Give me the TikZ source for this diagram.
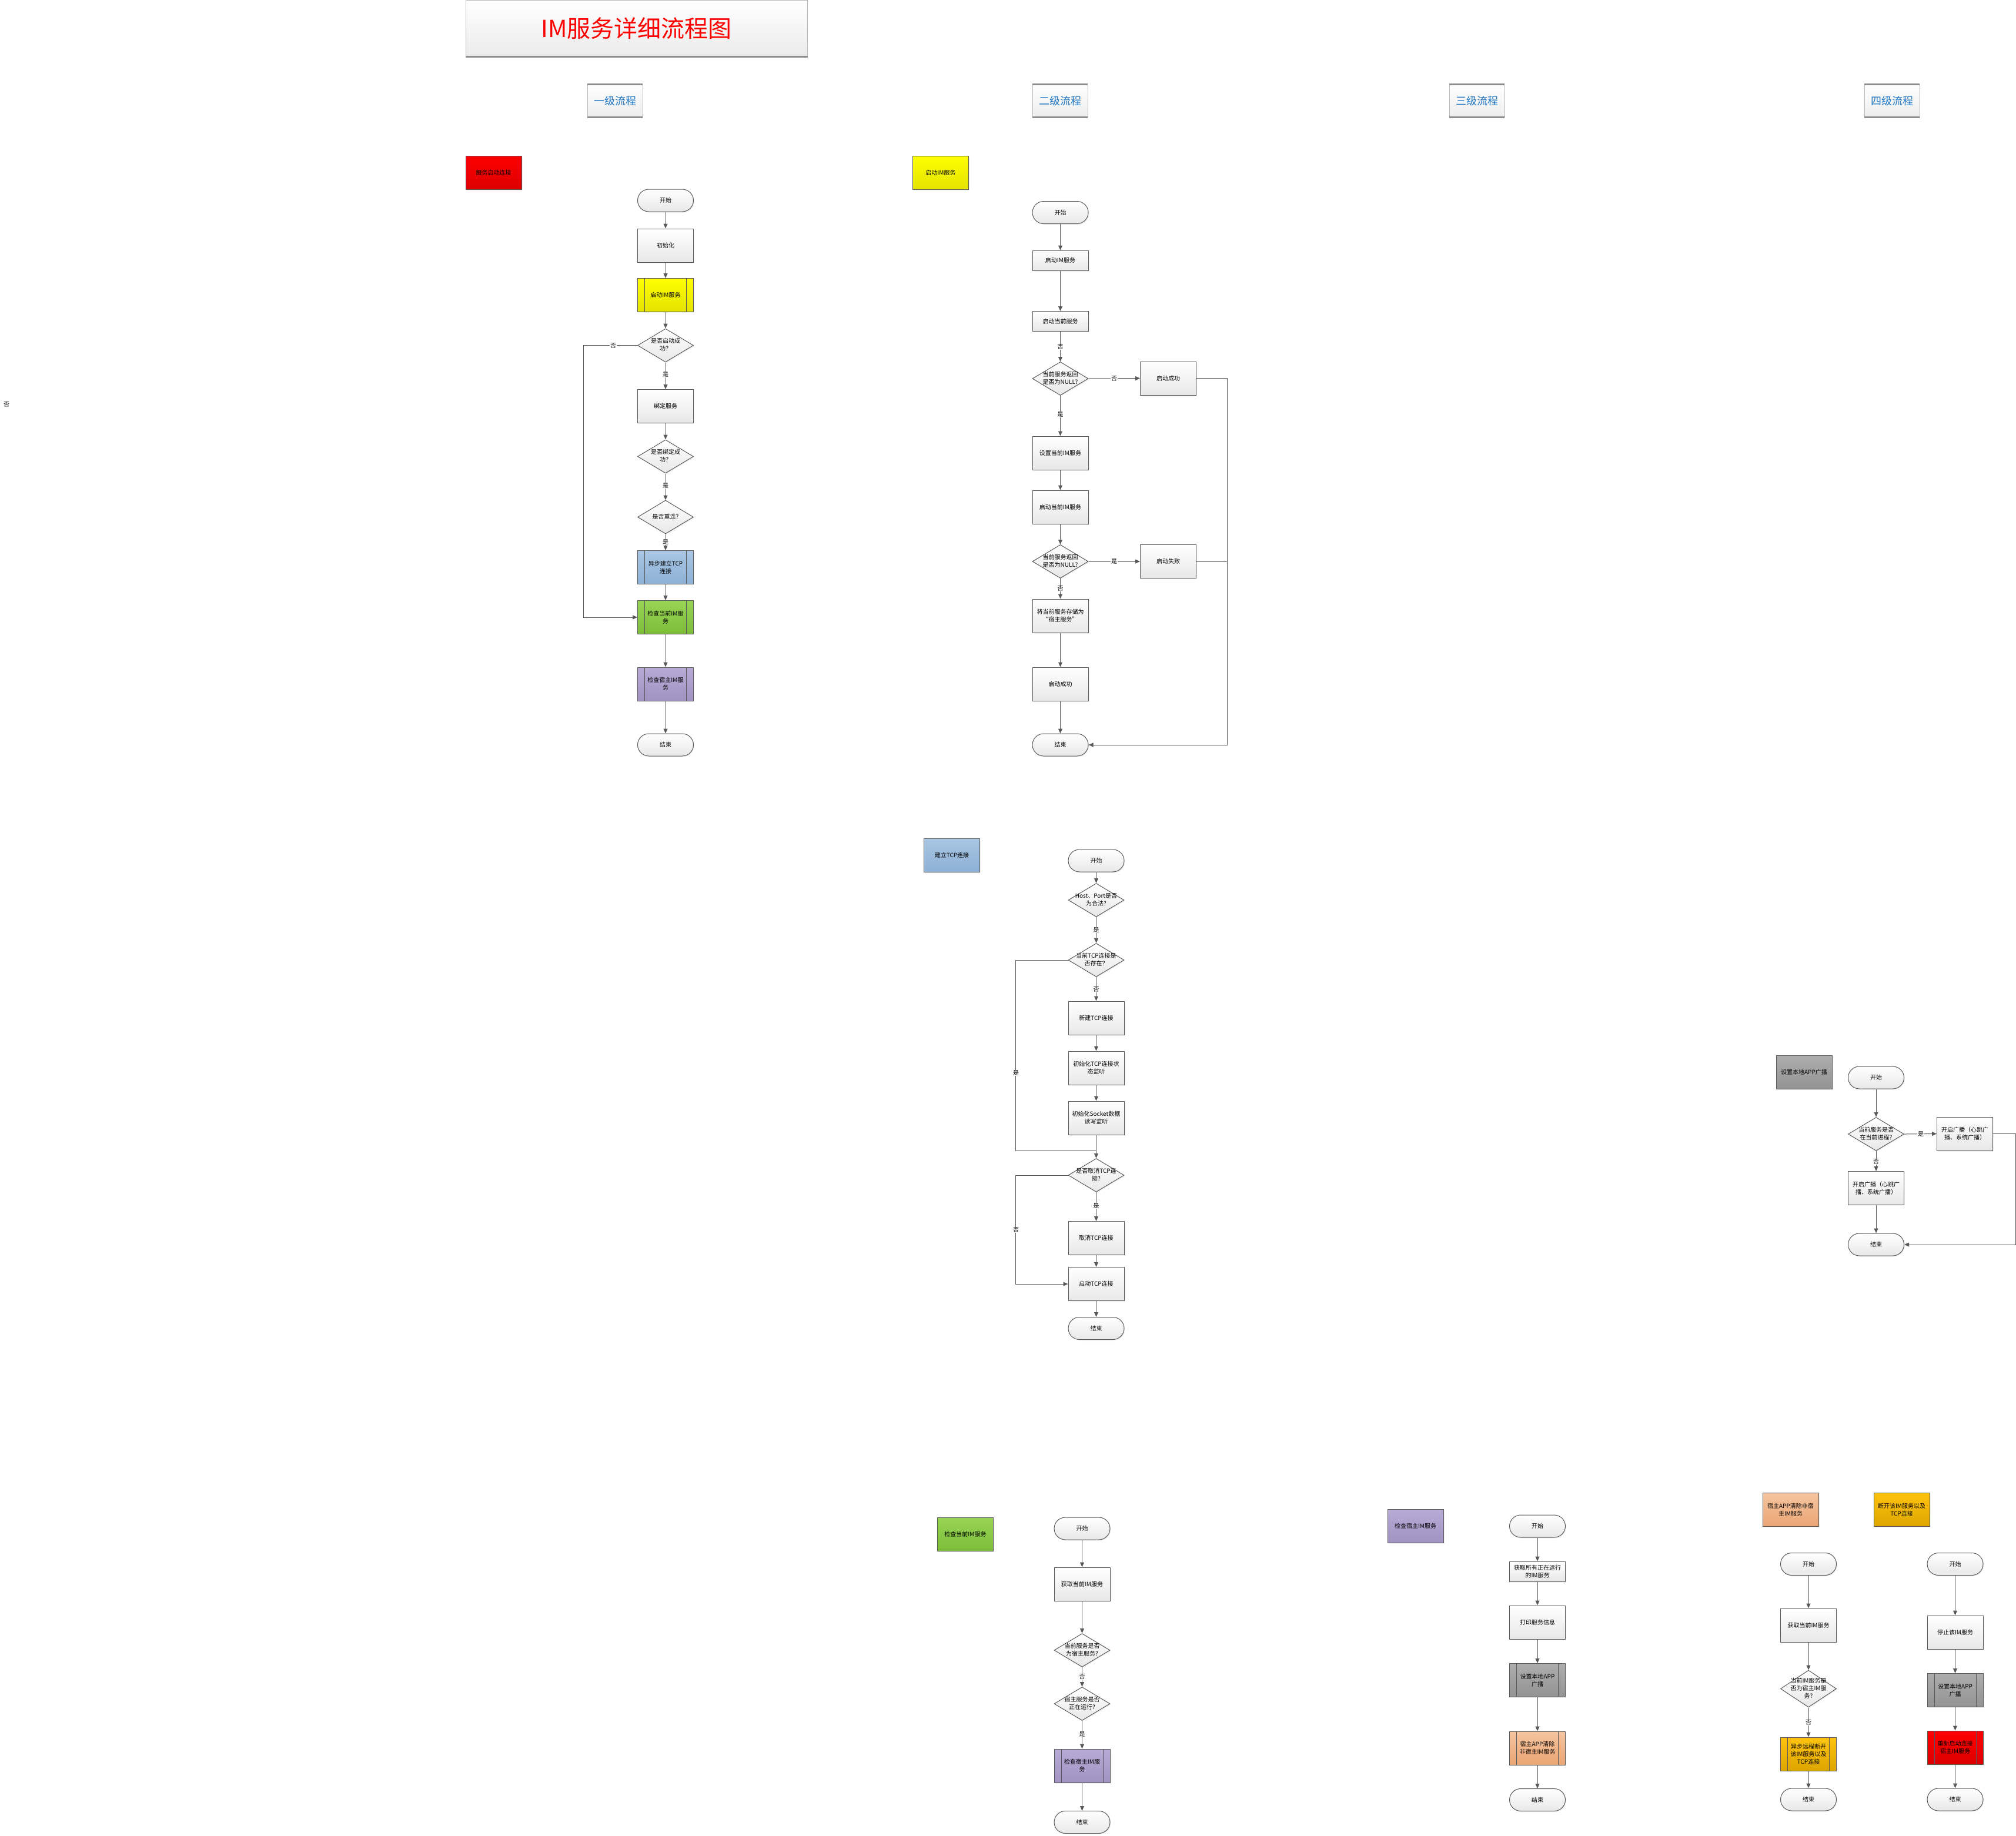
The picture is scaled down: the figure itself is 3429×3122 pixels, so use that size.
\documentclass[tikz,border=0pt]{standalone}
\usepackage{fontspec}
\setmainfont{Noto Sans CJK SC}
\usetikzlibrary{shapes.geometric,arrows.meta,shadows}
\definecolor{ln}{HTML}{595959}
\definecolor{bxb}{HTML}{E8E8E8}
\definecolor{redT}{HTML}{FF0000}\definecolor{redB}{HTML}{DC0000}
\definecolor{yelT}{HTML}{FFFF00}\definecolor{yelB}{HTML}{E3E300}
\definecolor{bluT}{HTML}{A9C6E3}\definecolor{bluB}{HTML}{8DB1D6}
\definecolor{grnT}{HTML}{98D455}\definecolor{grnB}{HTML}{7DBD3A}
\definecolor{purT}{HTML}{B7ABD6}\definecolor{purB}{HTML}{A293C2}
\definecolor{gryT}{HTML}{ADADAD}\definecolor{gryB}{HTML}{939393}
\definecolor{orgT}{HTML}{F5C49F}\definecolor{orgB}{HTML}{EBA574}
\definecolor{gldT}{HTML}{FFC20E}\definecolor{gldB}{HTML}{DDA600}
\definecolor{hdr}{HTML}{1F77C4}
\definecolor{hdl}{HTML}{8C8C8C}
\newcommand{\fsz}[1]{\fontsize{#1pt}{#1pt}\selectfont}
\newcommand{\bfs}{\fontsize{10pt}{13pt}\selectfont}
\newcommand{\dtx}[1]{\makebox[0pt]{\begin{tabular}{@{}c@{}}#1\end{tabular}}}
\tikzset{
  common/.style={draw=ln, line width=1pt, font=\bfs,
     drop shadow={shadow xshift=1.5pt, shadow yshift=-1.5pt, fill=black!12}},
  base/.style={common, align=center, inner sep=2pt},
  proc/.style={base, minimum width=95pt, minimum height=57pt, top color=white, bottom color=bxb},
  shortproc/.style={proc, minimum height=34pt},
  term/.style={base, minimum width=95pt, minimum height=38pt, rounded corners=19pt, top color=white, bottom color=bxb},
  dec/.style={common, shape=diamond, minimum width=95pt, minimum height=57pt, inner sep=0pt, top color=white, bottom color=bxb},
  sub/.style 2 args={proc, top color=#1, bottom color=#2,
     path picture={\draw[ln, line width=1pt]
       ([xshift=12pt]path picture bounding box.north west) -- ([xshift=12pt]path picture bounding box.south west)
       ([xshift=-12pt]path picture bounding box.north east) -- ([xshift=-12pt]path picture bounding box.south east);}},
  legend/.style 2 args={base, minimum width=95pt, minimum height=57pt, top color=#1, bottom color=#2},
  hd/.style={draw=gray!55, line width=0.8pt, top color=white, bottom color=black!7, minimum width=94pt, minimum height=55pt, font=\fsz{18}, text=hdr},
  arr/.style={draw=ln, line width=1pt, -{Triangle[length=8pt,width=7pt]}},
  con/.style={draw=ln, line width=1pt},
  lbl/.style={fill=white, inner sep=1pt, font=\bfs},
}
\begin{document}
\begin{tikzpicture}[x=1pt,y=-1pt]
\useasboundingbox (0,0) rectangle (3429,3122);
\fill[white] (0,0) rectangle (3429,3122);

% title and headers
\node[draw=gray!55, line width=1pt, top color=white, bottom color=black!8, minimum width=581pt, minimum height=96pt, font=\fsz{40}, text=red] (title) at (1082.5,48) {IM服务详细流程图};
\draw[hdl, line width=3pt] (title.south west) -- (title.south east);
\draw[black!75, line width=1.2pt] (title.north west) -- (title.north east);
\node[hd] (h1) at (1046,171.5) {一级流程};
\node[hd] (h2) at (1803,171.5) {二级流程};
\node[hd] (h3) at (2512,171.5) {三级流程};
\node[hd] (h4) at (3218,171.5) {四级流程};
\foreach \n in {h1,h2,h3,h4}{
  \draw[hdl, line width=2.5pt] (\n.north west) -- (\n.north east);
  \draw[hdl, line width=2.5pt] (\n.south west) -- (\n.south east);
}
\node[font=\bfs] (stray) at (11,688) {否};

% ---------- column 1 ----------
\node[legend={redT}{redB}] (lg1) at (839.5,293.5) {服务启动连接};
\node[term] (a0) at (1132,341) {开始};
\node[proc] (a1) at (1132,417.5) {初始化};
\node[sub={yelT}{yelB}] (a2) at (1132,502) {启动IM服务};
\node[dec] (a3) at (1132,587.5) {\dtx{是否启动成\\功？}};
\node[proc] (a4) at (1132,691) {绑定服务};
\node[dec] (a5) at (1132,776.5) {\dtx{是否绑定成\\功？}};
\node[dec] (a6) at (1132,879.5) {\dtx{是否重连?}};
\node[sub={bluT}{bluB}] (a7) at (1132,965) {异步建立TCP\\连接};
\node[sub={grnT}{grnB}] (a8) at (1132,1050) {检查当前IM服\\务};
\node[sub={purT}{purB}] (a9) at (1132,1163.5) {检查宿主IM服\\务};
\node[term] (a10) at (1132,1267) {结束};

% ---------- column 2 ----------
\node[legend={yelT}{yelB}] (lg2) at (1600,293.5) {启动IM服务};
\node[term] (b0) at (1803.5,361.5) {开始};
\node[shortproc] (b1) at (1803.5,443) {启动IM服务};
\node[shortproc] (b2) at (1803.5,546.5) {启动当前服务};
\node[dec] (b3) at (1803.5,644) {\dtx{当前服务返回\\是否为NULL?}};
\node[proc] (b4) at (1987,643.5) {启动成功};
\node[proc] (b5) at (1803.5,770.5) {设置当前IM服务};
\node[proc] (b6) at (1803.5,862.5) {启动当前IM服务};
\node[dec] (b7) at (1803.5,955) {\dtx{当前服务返回\\是否为NULL?}};
\node[proc] (b8) at (1987,955) {启动失败};
\node[proc] (b9) at (1803.5,1047.5) {将当前服务存储为\\“宿主服务”};
\node[proc] (b10) at (1803.5,1163.5) {启动成功};
\node[term] (b11) at (1803.5,1267) {结束};

% ---------- TCP ----------
\node[legend={bluT}{bluB}] (lg3) at (1619,1454.5) {建立TCP连接};
\node[term] (t0) at (1864.5,1464) {开始};
\node[dec] (t1) at (1864.5,1531) {\dtx{Host、Port是否\\为合法?}};
\node[dec] (t2) at (1864.5,1633) {\dtx{当前TCP连接是\\否存在？}};
\node[proc] (t3) at (1864.5,1731.5) {新建TCP连接};
\node[proc] (t4) at (1864.5,1816.5) {初始化TCP连接状\\态监听};
\node[proc] (t5) at (1864.5,1901.5) {初始化Socket数据\\读写监听};
\coordinate (tj) at (1864.5,1957);
\node[dec] (t6) at (1864.5,1999) {\dtx{是否取消TCP连\\接?}};
\node[proc] (t7) at (1864.5,2106) {取消TCP连接};
\node[proc] (t8) at (1864.5,2184) {启动TCP连接};
\node[term] (t9) at (1864.5,2259.5) {结束};

% ---------- set local app broadcast ----------
\node[legend={gryT}{gryB}] (lg4) at (3068.5,1824) {设置本地APP广播};
\node[term] (e0) at (3191,1833) {开始};
\node[dec] (e1) at (3191,1929) {\dtx{当前服务是否\\在当前进程?}};
\node[proc] (e2) at (3342,1928.5) {开启广播（心跳广\\播、系统广播）};
\node[proc] (e3) at (3191,2021) {开启广播（心跳广\\播、系统广播）};
\node[term] (e4) at (3191,2117) {结束};

% ---------- check current IM service ----------
\node[legend={grnT}{grnB}] (lg5) at (1642,2610) {检查当前IM服务};
\node[term] (f0) at (1840.5,2600) {开始};
\node[proc] (f1) at (1840.5,2694.5) {获取当前IM服务};
\node[dec] (f2) at (1840.5,2807) {\dtx{当前服务是否\\为宿主服务?}};
\node[dec] (f3) at (1840.5,2898) {\dtx{宿主服务是否\\正在运行?}};
\node[sub={purT}{purB}] (f4) at (1840.5,3003.5) {检查宿主IM服\\务};
\node[term] (f5) at (1840.5,3099.5) {结束};

% ---------- check host IM service ----------
\node[legend={purT}{purB}] (lg6) at (2407.5,2595.5) {检查宿主IM服务};
\node[term] (g0) at (2615,2596) {开始};
\node[shortproc] (g1) at (2615,2673) {获取所有正在运行\\的IM服务};
\node[proc] (g2) at (2615,2759.5) {打印服务信息};
\node[sub={gryT}{gryB}] (g3) at (2615,2858) {设置本地APP\\广播};
\node[sub={orgT}{orgB}] (g4) at (2615,2973.5) {宿主APP清除\\非宿主IM服务};
\node[term] (g5) at (2615,3061.5) {结束};

% ---------- host app clears / disconnect ----------
\node[legend={orgT}{orgB}] (lg7) at (3045.5,2568) {宿主APP清除非宿\\主IM服务};
\node[legend={gldT}{gldB}] (lg8) at (3234.5,2568) {断开该IM服务以及\\TCP连接};
\node[term] (h0) at (3076,2660.5) {开始};
\node[proc] (h1x) at (3076,2764.5) {获取当前IM服务};
\node[dec, minimum height=63pt] (h2x) at (3076,2872.5) {\dtx{当前IM服务是\\否为宿主IM服\\务?}};
\node[sub={gldT}{gldB}] (h3x) at (3076,2983.5) {异步远程断开\\该IM服务以及\\TCP连接};
\node[term] (h4x) at (3076,3061) {结束};

\node[term] (k0) at (3325.5,2660.5) {开始};
\node[proc] (k1) at (3325.5,2776.5) {停止该IM服务};
\node[sub={gryT}{gryB}] (k2) at (3325.5,2875) {设置本地APP\\广播};
\node[sub={redT}{redB}] (k3) at (3325.5,2972.5) {重新启动连接\\宿主IM服务};
\node[term] (k4) at (3325.5,3061) {结束};

% ---------- connectors ----------
\foreach \p/\q in {a0/a1,a1/a2,a2/a3,a3/a4,a4/a5,a5/a6,a6/a7,a7/a8,a8/a9,a9/a10,
  b0/b1,b1/b2,b2/b3,b3/b5,b5/b6,b6/b7,b7/b9,b9/b10,b10/b11,
  t0/t1,t1/t2,t2/t3,t3/t4,t4/t5,t5/t6,t6/t7,t7/t8,t8/t9,
  e0/e1,e1/e3,e3/e4,
  f0/f1,f1/f2,f2/f3,f3/f4,f4/f5,
  g0/g1,g1/g2,g2/g3,g3/g4,g4/g5,
  h0/h1x,h1x/h2x,h2x/h3x,h3x/h4x,
  k0/k1,k1/k2,k2/k3,k3/k4}
  \draw[arr] (\p.south) -- (\q.north);
\draw[arr] (a3.west) -- ++(-92,0) |- (a8.west);
\draw[arr] (b3.east) -- (b4.west);
\draw[arr] (b7.east) -- (b8.west);
\draw[arr] (b4.east) -- ++(52,0) |- (b11.east);
\draw[con] (b8.east) -- ++(52,0);
\draw[con] (t2.west) -- ++(-89,0) |- (tj);
\draw[arr] (t6.west) -- ++(-89,0) |- (t8.west);
\draw[arr] (e1.east) -- (e2.west);
\draw[arr] (e2.east) -- ++(38,0) |- (e4.east);

% ---------- connector labels ----------
\node[lbl] (la1) at (1043,587.5) {否};
\node[lbl] (la2) at (1132,637) {是};
\node[lbl] (la3) at (1132,826) {是};
\node[lbl] (la4) at (1132,922) {是};
\node[lbl] (lb1) at (1803.5,590) {否};
\node[lbl] (lb2) at (1895,644) {否};
\node[lbl] (lb3) at (1803.5,705) {是};
\node[lbl] (lb4) at (1895,955) {是};
\node[lbl] (lb5) at (1803.5,1001) {否};
\node[lbl] (lt1) at (1864.5,1582) {是};
\node[lbl] (lt2) at (1864.5,1683) {否};
\node[lbl] (lt3) at (1728,1825) {是};
\node[lbl] (lt4) at (1864.5,2051) {是};
\node[lbl] (lt5) at (1728,2092) {否};
\node[lbl] (le1) at (3267,1929) {是};
\node[lbl] (le2) at (3191,1976) {否};
\node[lbl] (lf1) at (1840.5,2852) {否};
\node[lbl] (lf2) at (1840.5,2950) {是};
\node[lbl] (lh1) at (3076,2930) {否};
\end{tikzpicture}
\end{document}
